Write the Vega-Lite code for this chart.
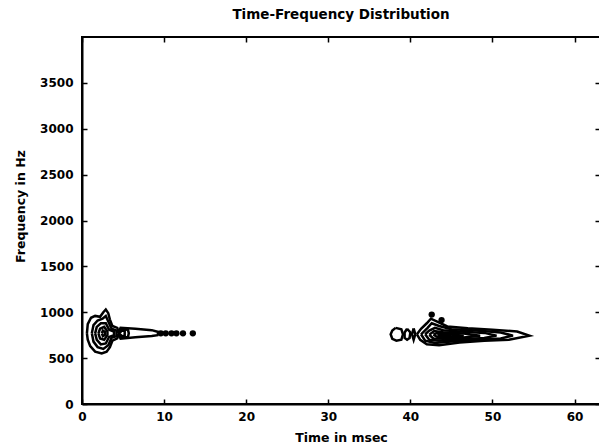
{
  "$schema": "https://vega.github.io/schema/vega-lite/v6.json",
  "autosize": {"type": "none"},
  "width": 518,
  "height": 367,
  "padding": {"left": 82, "top": 37, "right": 0, "bottom": 44},
  "background": "white",
  "title": {"text": "Time-Frequency Distribution", "font": "DejaVu Sans", "fontSize": 13.5, "fontWeight": "bold", "color": "black", "anchor": "middle", "frame": "group", "offset": 15},
  "config": {
    "view": {"stroke": "black", "strokeWidth": 2},
    "axis": {"domainColor": "black", "domainWidth": 2, "tickColor": "black", "tickWidth": 1.5, "tickSize": -5, "grid": false,
      "labelFont": "DejaVu Sans", "labelFontSize": 12, "labelFontWeight": "bold", "labelColor": "black",
      "titleFont": "DejaVu Sans", "titleFontSize": 12.5, "titleFontWeight": "bold", "titleColor": "black"}
  },
  "datasets": {
    "contours": [
      {"c":"L1","i":0,"t":0.6,"f":770},{"c":"L1","i":1,"t":0.7,"f":870},{"c":"L1","i":2,"t":1.1,"f":940},{"c":"L1","i":3,"t":1.6,"f":960},{"c":"L1","i":4,"t":2.2,"f":950},{"c":"L1","i":5,"t":2.6,"f":1000},{"c":"L1","i":6,"t":2.9,"f":1030},{"c":"L1","i":7,"t":3.2,"f":990},{"c":"L1","i":8,"t":3.4,"f":920},{"c":"L1","i":9,"t":3.7,"f":850},{"c":"L1","i":10,"t":4.3,"f":830},{"c":"L1","i":11,"t":4.5,"f":770},{"c":"L1","i":12,"t":4.3,"f":715},{"c":"L1","i":13,"t":3.7,"f":690},{"c":"L1","i":14,"t":3.4,"f":620},{"c":"L1","i":15,"t":3.0,"f":570},{"c":"L1","i":16,"t":2.4,"f":550},{"c":"L1","i":17,"t":1.6,"f":570},{"c":"L1","i":18,"t":1.0,"f":630},{"c":"L1","i":19,"t":0.7,"f":700},{"c":"L1","i":20,"t":0.6,"f":770},
      {"c":"L2","i":0,"t":1.2,"f":770},{"c":"L2","i":1,"t":1.4,"f":860},{"c":"L2","i":2,"t":1.9,"f":910},{"c":"L2","i":3,"t":2.5,"f":930},{"c":"L2","i":4,"t":2.9,"f":960},{"c":"L2","i":5,"t":3.2,"f":900},{"c":"L2","i":6,"t":3.6,"f":820},{"c":"L2","i":7,"t":4.2,"f":800},{"c":"L2","i":8,"t":4.2,"f":740},{"c":"L2","i":9,"t":3.6,"f":720},{"c":"L2","i":10,"t":3.2,"f":640},{"c":"L2","i":11,"t":2.6,"f":600},{"c":"L2","i":12,"t":1.9,"f":620},{"c":"L2","i":13,"t":1.4,"f":680},{"c":"L2","i":14,"t":1.2,"f":770},
      {"c":"L3","i":0,"t":1.6,"f":770},{"c":"L3","i":1,"t":1.8,"f":840},{"c":"L3","i":2,"t":2.3,"f":880},{"c":"L3","i":3,"t":2.9,"f":880},{"c":"L3","i":4,"t":3.3,"f":810},{"c":"L3","i":5,"t":3.9,"f":790},{"c":"L3","i":6,"t":3.9,"f":750},{"c":"L3","i":7,"t":3.3,"f":730},{"c":"L3","i":8,"t":2.9,"f":660},{"c":"L3","i":9,"t":2.3,"f":650},{"c":"L3","i":10,"t":1.8,"f":700},{"c":"L3","i":11,"t":1.6,"f":770},
      {"c":"L4","i":0,"t":2.0,"f":770},{"c":"L4","i":1,"t":2.2,"f":820},{"c":"L4","i":2,"t":2.7,"f":840},{"c":"L4","i":3,"t":3.1,"f":790},{"c":"L4","i":4,"t":3.1,"f":750},{"c":"L4","i":5,"t":2.7,"f":700},{"c":"L4","i":6,"t":2.2,"f":715},{"c":"L4","i":7,"t":2.0,"f":770},
      {"c":"L5","i":0,"t":2.4,"f":770},{"c":"L5","i":1,"t":2.55,"f":800},{"c":"L5","i":2,"t":2.8,"f":785},{"c":"L5","i":3,"t":2.8,"f":755},{"c":"L5","i":4,"t":2.55,"f":740},{"c":"L5","i":5,"t":2.4,"f":770},
      {"c":"T1","i":0,"t":4.4,"f":770},{"c":"T1","i":1,"t":4.7,"f":830},{"c":"T1","i":2,"t":6.5,"f":820},{"c":"T1","i":3,"t":8.5,"f":805},{"c":"T1","i":4,"t":9.3,"f":785},{"c":"T1","i":5,"t":9.2,"f":750},{"c":"T1","i":6,"t":8.5,"f":740},{"c":"T1","i":7,"t":6.5,"f":728},{"c":"T1","i":8,"t":4.7,"f":712},{"c":"T1","i":9,"t":4.4,"f":770},
      {"c":"T2","i":0,"t":4.5,"f":770},{"c":"T2","i":1,"t":4.8,"f":815},{"c":"T2","i":2,"t":5.6,"f":810},{"c":"T2","i":3,"t":5.7,"f":770},{"c":"T2","i":4,"t":5.6,"f":730},{"c":"T2","i":5,"t":4.8,"f":728},{"c":"T2","i":6,"t":4.5,"f":770},
      {"c":"T3","i":0,"t":4.6,"f":770},{"c":"T3","i":1,"t":4.8,"f":800},{"c":"T3","i":2,"t":5.2,"f":795},{"c":"T3","i":3,"t":5.2,"f":745},{"c":"T3","i":4,"t":4.8,"f":742},{"c":"T3","i":5,"t":4.6,"f":770},
      {"c":"RC","i":0,"t":38.2,"f":830},{"c":"RC","i":1,"t":37.8,"f":800},{"c":"RC","i":2,"t":37.6,"f":760},{"c":"RC","i":3,"t":37.8,"f":710},{"c":"RC","i":4,"t":38.3,"f":690},{"c":"RC","i":5,"t":38.9,"f":700},{"c":"RC","i":6,"t":39.1,"f":760},{"c":"RC","i":7,"t":38.9,"f":815},{"c":"RC","i":8,"t":38.2,"f":830},
      {"c":"RO1","i":0,"t":39.6,"f":820},{"c":"RO1","i":1,"t":39.3,"f":780},{"c":"RO1","i":2,"t":39.3,"f":720},{"c":"RO1","i":3,"t":39.6,"f":700},{"c":"RO1","i":4,"t":39.9,"f":720},{"c":"RO1","i":5,"t":40.0,"f":780},{"c":"RO1","i":6,"t":39.6,"f":820},
      {"c":"RO2","i":0,"t":40.4,"f":825},{"c":"RO2","i":1,"t":40.2,"f":760},{"c":"RO2","i":2,"t":40.4,"f":700},{"c":"RO2","i":3,"t":40.6,"f":760},{"c":"RO2","i":4,"t":40.4,"f":825},
      {"c":"B1","i":0,"t":40.8,"f":760},{"c":"B1","i":1,"t":41.2,"f":700},{"c":"B1","i":2,"t":42.0,"f":650},{"c":"B1","i":3,"t":43.5,"f":640},{"c":"B1","i":4,"t":46.0,"f":670},{"c":"B1","i":5,"t":49.0,"f":690},{"c":"B1","i":6,"t":52.0,"f":700},{"c":"B1","i":7,"t":54.5,"f":745},{"c":"B1","i":8,"t":53.0,"f":790},{"c":"B1","i":9,"t":50.0,"f":810},{"c":"B1","i":10,"t":47.0,"f":825},{"c":"B1","i":11,"t":44.5,"f":845},{"c":"B1","i":12,"t":43.2,"f":900},{"c":"B1","i":13,"t":42.5,"f":930},{"c":"B1","i":14,"t":42.0,"f":880},{"c":"B1","i":15,"t":41.3,"f":820},{"c":"B1","i":16,"t":40.8,"f":760},
      {"c":"B2","i":0,"t":41.3,"f":760},{"c":"B2","i":1,"t":41.8,"f":690},{"c":"B2","i":2,"t":43.0,"f":665},{"c":"B2","i":3,"t":45.0,"f":680},{"c":"B2","i":4,"t":48.0,"f":700},{"c":"B2","i":5,"t":51.0,"f":715},{"c":"B2","i":6,"t":52.5,"f":745},{"c":"B2","i":7,"t":51.0,"f":780},{"c":"B2","i":8,"t":48.0,"f":800},{"c":"B2","i":9,"t":45.0,"f":815},{"c":"B2","i":10,"t":43.5,"f":850},{"c":"B2","i":11,"t":42.6,"f":880},{"c":"B2","i":12,"t":42.1,"f":830},{"c":"B2","i":13,"t":41.3,"f":760},
      {"c":"B3","i":0,"t":41.8,"f":760},{"c":"B3","i":1,"t":42.3,"f":700},{"c":"B3","i":2,"t":43.5,"f":690},{"c":"B3","i":3,"t":46.0,"f":705},{"c":"B3","i":4,"t":49.0,"f":720},{"c":"B3","i":5,"t":50.5,"f":745},{"c":"B3","i":6,"t":49.0,"f":775},{"c":"B3","i":7,"t":46.0,"f":790},{"c":"B3","i":8,"t":44.0,"f":805},{"c":"B3","i":9,"t":43.0,"f":830},{"c":"B3","i":10,"t":42.3,"f":800},{"c":"B3","i":11,"t":41.8,"f":760},
      {"c":"B4","i":0,"t":42.3,"f":755},{"c":"B4","i":1,"t":42.8,"f":715},{"c":"B4","i":2,"t":44.0,"f":712},{"c":"B4","i":3,"t":46.5,"f":725},{"c":"B4","i":4,"t":48.5,"f":745},{"c":"B4","i":5,"t":46.5,"f":768},{"c":"B4","i":6,"t":44.0,"f":782},{"c":"B4","i":7,"t":42.9,"f":795},{"c":"B4","i":8,"t":42.3,"f":755},
      {"c":"B5","i":0,"t":42.8,"f":755},{"c":"B5","i":1,"t":43.3,"f":730},{"c":"B5","i":2,"t":44.5,"f":728},{"c":"B5","i":3,"t":46.5,"f":745},{"c":"B5","i":4,"t":44.5,"f":762},{"c":"B5","i":5,"t":43.3,"f":775},{"c":"B5","i":6,"t":42.8,"f":755},
      {"c":"B6","i":0,"t":43.3,"f":752},{"c":"B6","i":1,"t":43.8,"f":740},{"c":"B6","i":2,"t":45.0,"f":745},{"c":"B6","i":3,"t":43.8,"f":760},{"c":"B6","i":4,"t":43.3,"f":752}
    ],
    "dots": [
      {"t":9.6,"f":770},{"t":10.2,"f":770},{"t":10.9,"f":770},{"t":11.5,"f":770},{"t":12.3,"f":770},{"t":13.5,"f":770},
      {"t":42.6,"f":975},{"t":43.8,"f":915}
    ]
  },
  "layer": [
    {
      "data": {"name": "contours"},
      "mark": {"type": "line", "color": "black", "strokeWidth": 2.5, "clip": true},
      "encoding": {
        "x": {"field": "t", "type": "quantitative", "scale": {"domain": [0, 63.1], "nice": false, "zero": false},
          "axis": {"orient": "bottom", "values": [0,10,20,30,40,50,60], "format": "d", "title": "Time in msec", "labelPadding": 12, "titlePadding": 9, "labelFlush": false, "labelOverlap": false}},
        "y": {"field": "f", "type": "quantitative", "scale": {"domain": [0, 4000], "nice": false, "zero": false},
          "axis": {"orient": "left", "values": [0,500,1000,1500,2000,2500,3000,3500], "format": "d", "title": "Frequency in Hz", "labelPadding": 14, "titlePadding": 12, "titleY": 169, "labelFlush": false, "labelOverlap": false}},
        "detail": {"field": "c", "type": "nominal"},
        "order": {"field": "i", "type": "quantitative"}
      }
    },
    {
      "data": {"name": "dots"},
      "mark": {"type": "point", "shape": "circle", "filled": true, "color": "black", "size": 40, "opacity": 1},
      "encoding": {
        "x": {"field": "t", "type": "quantitative", "axis": {"orient": "top", "values": [0,10,20,30,40,50,60], "labels": false, "title": null, "domain": false}},
        "y": {"field": "f", "type": "quantitative", "axis": {"orient": "right", "values": [0,500,1000,1500,2000,2500,3000,3500], "labels": false, "title": null, "domain": false}}
      }
    }
  ],
  "resolve": {"axis": {"x": "independent", "y": "independent"}}
}
